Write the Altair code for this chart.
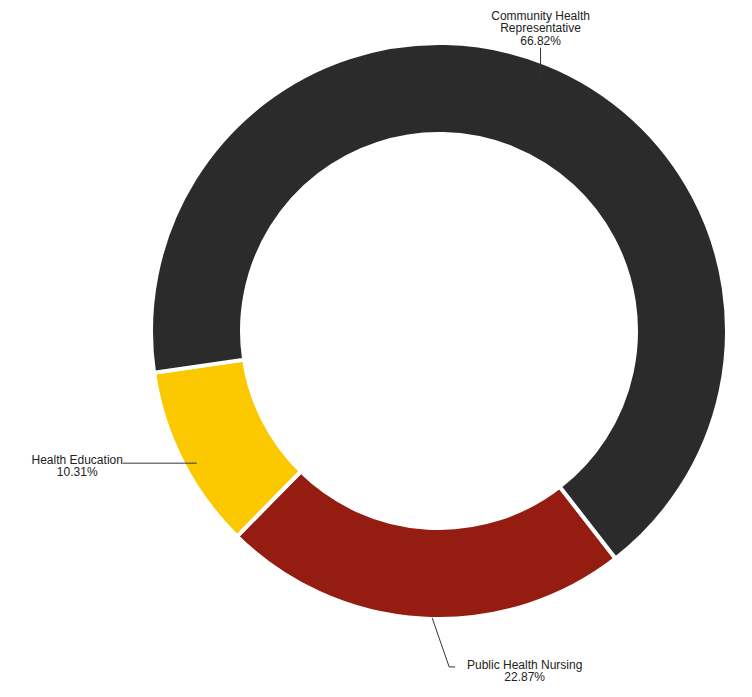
import math
import altair as alt
import pandas as pd

# ---- data ----
categories = ["Public Health Nursing", "Health Education", "Community Health Representative"]
label_text = ["Public Health Nursing", "Health Education", "Community Health\nRepresentative"]
shares = [22.87, 10.31, 66.82]
colors = ["#941c10", "#fcc800", "#2b2b2b"]

# ---- layout ----
W, H = 752, 697
CX, CY = 439, 331
R_OUT, R_IN = 288, 197
START_DEG = 142.2

layout = {
    "Public Health Nursing": dict(r=287, shift=-2.0, path=[(17, 49), (6, 0)], text_dx=69.5, text_dy=2),
    "Health Education": dict(r=276, shift=-1.7, path=[(-74, 0)], text_dx=-45.5, text_dy=0.5),
    "Community Health Representative": dict(r=272, shift=0.0, path=[(0, -31)], text_dx=0, text_dy=-28),
}

df = pd.DataFrame({
    "category": categories,
    "share": shares,
    "ord": list(range(len(categories))),
})

# leader lines and labels derived from slice mid-angles
total = sum(shares)
acc = START_DEG
segs = []
texts = []
for cat, lab, v in zip(categories, label_text, shares):
    span = v / total * 360.0
    L = layout[cat]
    mid = math.radians(acc + span / 2 + L["shift"])
    acc += span
    ax = CX + L["r"] * math.sin(mid)
    ay = CY - L["r"] * math.cos(mid)
    px, py = ax, ay
    for dx, dy in L["path"]:
        nx, ny = px + dx, py + dy
        segs.append(dict(x1=px, y1=py, x2=nx, y2=ny))
        px, py = nx, ny
    texts.append(dict(x=px + L["text_dx"], y=py + L["text_dy"], label=f"{lab}\n{v:.2f}%"))

seg_df = pd.DataFrame(segs)
txt_df = pd.DataFrame(texts)

s = math.radians(START_DEG)
arc = alt.Chart(df).mark_arc(
    innerRadius=R_IN, outerRadius=R_OUT, stroke="white", strokeWidth=4
).encode(
    theta=alt.Theta("share:Q", stack=True, scale=alt.Scale(range=[s, s + 2 * math.pi])),
    color=alt.Color("category:N", scale=alt.Scale(domain=categories, range=colors), legend=None),
    order=alt.Order("ord:Q"),
    x=alt.value(CX),
    y=alt.value(CY),
)

rules = alt.Chart(seg_df).mark_rule(color="#333333", strokeWidth=1).encode(
    x=alt.X("x1:Q", scale=None, axis=None),
    y=alt.Y("y1:Q", scale=None, axis=None),
    x2="x2:Q",
    y2="y2:Q",
)

labels = alt.Chart(txt_df).mark_text(
    align="center", baseline="alphabetic", font="Liberation Sans", fontSize=12,
    lineHeight=12.5, color="#222222", lineBreak="\n",
).encode(
    x=alt.X("x:Q", scale=None, axis=None),
    y=alt.Y("y:Q", scale=None, axis=None),
    text="label:N",
)

chart = alt.layer(arc, rules, labels).properties(
    width=W, height=H, autosize=alt.AutoSizeParams(type="none"), padding=0,
    background="white",
).configure_view(stroke=None)

chart.save("out.html", embed_options={"renderer": "svg", "actions": False})
